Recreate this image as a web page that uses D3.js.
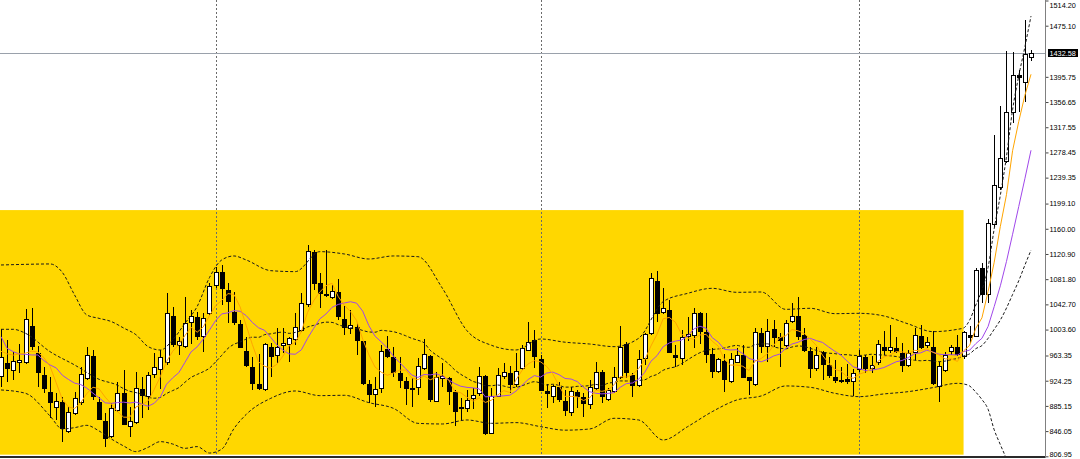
<!DOCTYPE html>
<html><head><meta charset="utf-8">
<script src="https://cdn.jsdelivr.net/npm/d3@7"></script>
<style>html,body{margin:0;padding:0;background:#fff;overflow:hidden}svg{display:block}</style>
</head><body>
<svg id="chart" width="1080" height="459"></svg>
<script>
// ---------- DATA ----------
const tickValues = [806.95, 846.05, 885.15, 924.25, 963.35, 1003.60, 1042.70, 1081.80, 1120.90, 1160.00,
  1199.10, 1239.35, 1278.45, 1317.55, 1356.65, 1395.75, 1475.10, 1514.20];
const lastPrice = 1432.58;
const separatorBars = [35, 88, 140];
const zoneBars = [-3, 157];
const zonePrices = [809.5, 1189.0];

const opens = [
930.5,952.3,939.9,951.2,951.2,1009.2,967.8,933.1,906.2,881.4,
890.7,845.2,872.6,890.2,926.9,962.6,891.8,862.3,836.4,877.8,
904.7,851.9,858.1,911.4,898.5,933.1,940.9,952.3,1024.7,978.1,
977.1,1013.3,1022.6,992.6,1027.3,1071.7,1092.4,1065.0,1030.4,1012.3,
970.4,946.1,918.7,909.9,977.1,963.1,978.1,979.7,987.4,1001.4,
1041.7,1123.5,1075.4,1058.8,1052.1,1062.4,1020.0,1005.0,1007.1,985.9,
918.7,902.1,910.9,973.0,961.6,936.8,923.8,912.4,912.4,942.4,
962.6,891.8,926.9,928.0,906.2,879.9,880.4,895.4,903.1,932.1,
841.6,899.5,929.5,935.7,917.6,941.9,970.9,987.4,957.9,908.3,
899.5,915.0,892.8,873.7,907.3,899.5,886.6,910.9,938.3,894.3,
907.3,928.0,981.2,933.1,916.1,957.4,996.2,1079.5,1028.8,1034.0,
964.2,957.9,992.6,994.2,1029.9,1000.4,965.7,938.3,955.4,922.8,
952.3,964.2,929.5,917.6,997.8,977.1,1004.5,991.6,978.1,1014.9,
1024.7,995.2,970.4,941.9,969.3,948.7,929.5,921.8,927.4,922.8,
940.9,960.5,941.9,951.2,976.1,970.9,975.5,967.8,947.6,966.8,
994.2,978.1,976.1,914.0,939.3,969.3,976.1,960.5,995.2,992.5,
1098.6,1057.2,1165.8,1222.8,1264.0,1339.1,1398.6,1385.7,1424.5];
const highs = [
1004.0,987.4,969.3,981.2,1035.5,1036.6,978.1,946.1,930.5,904.7,
899.5,884.0,907.3,946.1,976.1,971.9,899.5,873.7,889.2,922.8,
940.9,884.0,938.3,930.5,938.3,966.8,971.9,1059.8,1039.2,992.6,
1054.7,1034.0,1031.4,1028.8,1075.4,1101.2,1103.8,1075.4,1062.4,1018.5,
992.6,961.6,965.7,982.3,982.3,1005.5,1005.5,992.6,1028.8,1059.8,
1134.8,1127.1,1090.9,1127.1,1072.8,1081.6,1040.7,1034.0,1013.3,986.5,
925.4,930.5,979.7,994.2,977.1,961.6,930.5,928.0,959.0,989.0,
964.2,938.3,952.3,930.5,909.9,896.9,909.9,912.4,946.1,933.1,
912.4,943.9,951.2,947.1,967.8,979.7,1014.9,1003.0,964.2,919.2,
917.6,922.8,909.9,915.0,909.9,904.7,925.4,953.8,940.9,912.4,
946.1,1009.2,984.9,935.7,971.9,997.8,1090.9,1095.0,1067.6,1049.5,
979.7,1003.0,1022.6,1036.6,1031.4,1029.9,974.5,959.0,965.7,966.8,
974.5,979.7,930.5,1005.5,1005.5,1019.5,1018.5,997.8,1018.5,1044.3,
1054.7,1005.5,977.1,977.1,970.9,961.6,956.4,946.1,949.7,941.9,
971.9,964.2,962.6,987.4,1001.9,1010.7,992.6,982.3,971.9,1005.5,
1010.7,992.6,1001.9,953.8,969.3,979.7,995.2,1001.9,1009.2,1098.6,
1106.4,1174.7,1305.5,1350.9,1436.3,1434.7,1406.3,1483.9,1437.4];
const lows = [
915.0,922.8,925.4,935.7,950.2,971.9,915.0,904.7,865.9,863.3,
828.7,843.7,871.1,886.6,925.4,894.3,862.5,821.9,834.9,876.2,
855.0,837.5,857.5,865.9,878.8,928.0,910.9,948.7,977.1,964.2,
974.5,981.2,987.4,969.3,1026.2,1067.6,1041.7,1013.3,1010.7,974.5,
946.1,909.9,909.9,908.8,930.5,951.2,966.8,953.8,979.7,1000.4,
1039.2,1065.0,1036.6,1054.7,1051.1,1018.5,995.2,996.2,964.2,917.6,
890.2,884.0,905.7,959.0,930.5,912.4,886.6,884.0,902.1,940.9,
891.8,890.7,915.0,886.6,854.0,863.3,876.2,880.4,901.1,840.0,
841.1,898.5,926.4,904.7,915.0,940.9,970.4,944.5,908.3,881.4,
889.2,891.8,870.0,870.0,881.4,868.5,879.9,909.9,890.2,892.8,
904.7,926.4,928.0,899.5,915.0,948.7,995.2,1015.9,1027.8,966.8,
945.0,948.7,986.4,974.5,981.2,952.3,928.0,935.7,907.3,921.2,
951.2,928.0,902.1,916.6,966.8,953.8,977.1,945.0,977.1,1013.3,
987.4,969.3,928.0,939.9,925.4,928.0,920.2,920.2,919.2,901.1,
938.3,935.7,936.8,948.7,964.2,966.8,966.8,938.3,946.1,956.4,
973.0,974.5,917.6,890.7,938.3,964.2,962.6,957.9,982.3,991.6,
1044.3,1044.8,1163.2,1220.1,1261.6,1323.6,1341.6,1357.1,1420.8];
const closes = [
961.6,941.9,954.9,956.4,1020.0,977.1,935.7,910.9,889.2,892.8,
848.8,876.2,898.0,934.2,964.2,898.5,863.3,833.3,881.4,904.7,
855.6,862.3,913.5,900.6,933.1,945.0,961.6,1029.9,979.7,985.9,
1014.3,1025.2,992.6,1021.1,1071.7,1092.4,1066.1,1045.9,1014.3,975.5,
947.1,918.7,911.4,980.7,960.5,977.1,983.3,990.0,1008.1,1044.3,
1125.5,1073.8,1058.3,1055.7,1064.0,1022.6,1005.5,1010.2,985.9,918.7,
902.1,910.9,970.4,961.6,935.7,924.3,911.4,909.9,947.6,965.2,
894.3,929.5,931.6,907.3,876.2,883.0,894.3,902.1,932.1,841.1,
901.1,933.1,937.3,917.6,939.3,974.5,983.8,961.6,908.8,903.7,
916.1,894.3,877.3,908.3,899.5,888.1,914.0,938.3,898.5,909.9,
929.5,976.1,935.7,916.6,957.4,996.2,1084.2,1027.3,1036.6,967.8,
959.0,991.6,996.2,1028.8,1000.4,964.2,938.3,957.4,925.4,957.4,
964.2,929.0,923.8,999.3,977.1,1001.4,991.1,985.9,1014.3,1024.7,
992.6,970.9,941.9,964.2,948.7,931.6,924.3,925.4,922.8,935.7,
963.1,941.9,948.7,980.7,970.9,977.1,969.3,947.1,967.8,995.2,
974.5,984.9,919.2,947.1,964.2,976.1,964.2,1000.4,991.1,1096.0,
1057.2,1168.5,1227.9,1269.3,1341.6,1398.6,1394.4,1431.2,1432.58];

// fast moving average (orange)
const maFast = [
970.0,966.0,964.0,966.0,967.0,970.1,968.8,960.0,946.6,921.1,
895.5,883.6,881.0,890.0,904.3,914.2,911.6,898.7,888.1,876.2,
867.7,867.5,883.5,887.3,893.0,910.9,930.8,954.0,969.9,980.4,
994.3,1007.0,999.5,1007.8,1025.0,1040.6,1048.8,1059.4,1058.1,1038.8,
1009.8,980.3,953.4,946.7,943.7,949.7,962.6,978.3,983.8,1000.6,
1030.2,1048.3,1062.0,1071.5,1075.5,1054.9,1041.2,1031.6,1017.6,988.6,
964.5,945.6,937.6,932.7,936.1,940.6,940.7,928.6,925.8,931.7,
925.7,929.3,933.6,925.6,907.8,905.5,898.5,892.6,897.5,890.5,
894.1,901.9,908.9,906.0,925.7,940.4,950.5,955.4,953.6,946.5,
934.8,916.9,900.0,899.9,899.1,893.5,897.4,909.6,907.7,909.8,
918.0,930.5,929.9,933.6,943.1,956.4,978.0,996.3,1020.3,1022.4,
1015.0,996.5,990.2,988.7,995.2,996.2,985.6,977.8,957.1,948.5,
948.5,946.7,940.0,954.7,958.7,966.1,978.5,991.0,994.0,1003.5,
1001.7,997.7,988.9,978.9,963.7,951.5,942.1,938.8,930.6,928.0,
934.3,937.8,942.4,954.0,961.1,963.9,969.3,969.0,966.4,971.3,
970.8,973.9,968.3,964.2,958.0,958.3,954.2,970.4,979.2,1005.6,
1021.8,1062.6,1108.1,1163.8,1212.9,1281.2,1326.4,1367.0,1399.7];

// slow moving average (purple)
const maSlow = [
992.6,974.5,969.3,965.7,965.2,964.2,964.2,955.4,948.7,944.1,
932.8,926.2,920.5,918.3,912.7,904.9,897.6,889.9,889.1,890.3,
891.0,889.6,891.1,887.7,884.6,889.3,899.2,918.8,928.6,936.7,
952.6,968.9,976.8,988.9,1002.7,1017.5,1027.9,1029.5,1033.0,1031.9,
1025.2,1014.6,1006.4,1002.4,991.3,979.8,971.5,965.9,965.3,972.2,
990.0,1005.5,1020.2,1027.7,1038.1,1042.6,1044.8,1046.8,1044.6,1032.1,
1009.7,993.4,984.6,975.2,962.4,952.6,943.2,933.1,929.3,933.9,
933.2,935.0,931.1,925.7,919.8,915.6,913.9,913.1,911.6,899.2,
899.8,900.2,900.8,901.8,908.1,917.3,926.2,932.2,929.8,936.1,
937.6,933.7,927.7,926.8,922.8,914.2,907.2,904.8,903.8,904.5,
905.8,914.0,919.8,920.7,926.5,937.2,954.3,963.1,977.0,982.8,
985.7,987.3,993.3,1004.5,1008.8,1005.6,991.1,984.0,972.9,971.9,
972.4,966.2,958.9,955.9,953.6,957.3,962.6,965.5,974.4,981.1,
983.9,988.1,990.0,986.5,983.6,976.6,969.9,963.9,954.8,945.9,
942.9,940.0,940.6,942.3,944.6,949.1,953.6,955.7,960.2,966.2,
967.4,971.6,968.7,965.3,964.7,964.6,964.1,969.4,971.7,981.8,
990.1,1008.4,1039.3,1071.5,1109.3,1151.5,1194.5,1237.6,1281.8];

// Bollinger middle line (null = not read)
const bandMid = [
1004.0,null,1004.0,null,997.8,null,null,null,969.3,null,
null,null,948.7,null,null,null,926.4,null,null,917.2,
911.9,907.9,905.8,903.0,898.7,897.1,898.4,904.4,908.9,913.5,
921.8,929.3,934.0,938.3,943.7,953.4,963.6,974.2,980.8,984.3,
988.9,991.8,991.6,995.7,997.0,998.7,999.7,997.7,999.2,1002.1,
1007.6,1010.1,1013.3,1015.1,1014.7,1011.2,1008.2,1006.4,1005.0,1002.2,
999.9,999.5,1002.4,1001.5,1000.3,997.6,994.0,990.0,987.0,983.0,
971.5,964.2,957.9,950.5,941.1,934.1,928.6,923.1,920.5,916.6,
916.5,917.6,916.0,913.8,914.0,916.5,920.1,922.7,920.7,917.7,
918.7,917.0,914.3,914.3,915.5,915.8,916.7,918.5,916.8,920.3,
921.7,923.9,923.8,923.8,924.7,925.7,930.8,934.0,940.4,943.7,
945.8,950.7,956.6,962.6,967.7,971.4,972.7,973.6,975.0,977.4,
979.1,976.8,976.1,980.2,981.2,981.5,976.9,974.8,973.7,976.5,
978.2,977.2,974.5,971.2,968.6,967.0,966.3,964.7,964.6,963.5,
963.4,964.1,965.3,964.4,964.1,962.9,961.8,959.8,957.5,956.1,
955.2,955.8,954.7,953.8,954.7,956.9,958.9,962.6,966.0,974.0,
978.8,990.0,1004.0,1018.4,1037.0,1058.1,1079.3,1103.5,1126.8];

// Bollinger upper / lower, read at these bars
const bandBars = [0,4,8,10,12,14,16,18,20,22,
  24,26,28,30,32,34,36,38,40,44,
  48,52,56,60,64,68,72,76,80,84,
  88,92,96,100,104,108,112,116,120,124,
  128,132,136,140,144,148,152,156,157,158,
  159,160,161,162,163,164,165,166,167,168];
const bandUpper = [1103.8,1104.8,1105.4,1092.4,1057.3,1026.2,1021.0,1016.0,1006.0,995.7,
  977.1,971.9,987.4,1013.3,1039.5,1084.2,1111.6,1117.8,1111.6,1095.0,
  1093.5,1124.5,1120.9,1113.1,1117.8,1116.7,1067.6,1001.9,979.2,971.9,
  989.0,984.0,981.2,977.1,990.0,1046.9,1059.8,1067.6,1061.4,1061.9,
  1035.0,1036.6,1028.3,1028.8,1024.7,1012.3,1000.4,1004.0,1006.0,1018.4,
  1041.7,1065.0,1100.0,1160.0,1212.0,1272.0,1345.0,1397.0,1442.0,1490.0];
const bandLower = [909.9,904.7,869.5,849.3,851.4,855.0,846.2,833.8,823.0,814.2,
  820.9,829.7,826.0,819.3,822.0,812.0,818.0,850.0,872.0,896.9,
  908.3,901.1,901.6,890.2,881.4,858.1,857.1,863.3,858.1,859.2,
  853.0,847.5,849.3,865.9,863.3,832.3,853.0,876.2,894.3,900.6,
  916.1,914.0,904.7,899.5,903.7,907.3,913.5,920.2,919.2,916.0,
  906.5,895.0,880.0,848.0,825.0,802.0,770.0,762.0,765.0,763.0];

// ---------- DRAW ----------
const svg = d3.select("#chart");
const plotRight = 1045, plotBottom = 456;
const x = d3.scaleLinear().domain([0, 168]).range([1, 1031]);
const y = d3.scaleLinear().domain([806.95, 1514.20]).range([456.3, 0.5]);

svg.append("rect").attr("width", 1080).attr("height", 459).attr("fill", "#fff");
svg.append("defs").append("clipPath").attr("id", "plotClip")
  .append("rect").attr("x", 0).attr("y", 0).attr("width", plotRight).attr("height", plotBottom);

const plot = svg.append("g").attr("clip-path", "url(#plotClip)");

// zone rectangle
plot.append("rect")
  .attr("x", x(zoneBars[0])).attr("y", y(zonePrices[1]))
  .attr("width", x(zoneBars[1]) - x(zoneBars[0]))
  .attr("height", y(zonePrices[0]) - y(zonePrices[1]))
  .attr("fill", "#FFD700");

// period separators
plot.selectAll("line.sep").data(separatorBars).join("line").attr("class", "sep")
  .attr("x1", d => Math.round(x(d)) + 0.5).attr("x2", d => Math.round(x(d)) + 0.5)
  .attr("y1", 0).attr("y2", plotBottom)
  .attr("stroke", "#6b6b6b").attr("stroke-width", 1).attr("stroke-dasharray", "2,2");

// last price line
const ly = Math.round(y(lastPrice)) + 0.5;
plot.append("line").attr("x1", 0).attr("x2", plotRight).attr("y1", ly).attr("y2", ly)
  .attr("stroke", "#9aa1ab").attr("stroke-width", 1);

// candles
const bars = d3.range(closes.length);
const cg = plot.append("g").attr("shape-rendering", "crispEdges");
bars.forEach(i => {
  const cx = Math.round(x(i));
  const yh = Math.round(y(highs[i])), yl = Math.round(y(lows[i]));
  cg.append("rect").attr("x", cx).attr("y", yh).attr("width", 1).attr("height", Math.max(1, yl - yh)).attr("fill", "#000");
  const top = Math.round(y(Math.max(opens[i], closes[i])));
  const bot = Math.round(y(Math.min(opens[i], closes[i])));
  const bull = closes[i] >= opens[i];
  if (bull) {
    const h = Math.max(2, bot - top);
    cg.append("rect").attr("x", cx - 2).attr("y", top).attr("width", 5).attr("height", h).attr("fill", "#000");
    if (h > 2) cg.append("rect").attr("x", cx - 1).attr("y", top + 1).attr("width", 3).attr("height", h - 2).attr("fill", "#fff");
  } else {
    cg.append("rect").attr("x", cx - 2).attr("y", top).attr("width", 5).attr("height", Math.max(1, bot - top)).attr("fill", "#000");
  }
});

// indicator lines
const lineLin = d3.line().x(d => x(d[0])).y(d => y(d[1]));
const lineSmooth = d3.line().x(d => x(d[0])).y(d => y(d[1])).curve(d3.curveMonotoneX);
const pts = arr => arr.map((v, i) => [i, v]).filter(d => d[1] != null);

plot.append("path").datum(bandBars.map((b, k) => [b, bandUpper[k]])).attr("d", lineSmooth)
  .attr("fill", "none").attr("stroke", "#1a1a1a").attr("stroke-width", 1).attr("stroke-dasharray", "3,2");
plot.append("path").datum(bandBars.map((b, k) => [b, bandLower[k]])).attr("d", lineSmooth)
  .attr("fill", "none").attr("stroke", "#1a1a1a").attr("stroke-width", 1).attr("stroke-dasharray", "3,2");
plot.append("path").datum(pts(bandMid)).attr("d", lineSmooth)
  .attr("fill", "none").attr("stroke", "#1a1a1a").attr("stroke-width", 1).attr("stroke-dasharray", "3,2");
plot.append("path").datum(pts(maSlow)).attr("d", lineLin)
  .attr("fill", "none").attr("stroke", "#a047ea").attr("stroke-width", 1);
plot.append("path").datum(pts(maFast)).attr("d", lineLin)
  .attr("fill", "none").attr("stroke", "#ffa500").attr("stroke-width", 1);

// bottom border
svg.append("rect").attr("x", 0).attr("y", 456).attr("width", plotRight + 1).attr("height", 2).attr("fill", "#2a2a2a");

// right price axis
const axis = d3.axisRight(y).tickValues(tickValues).tickSize(3).tickPadding(1).tickSizeOuter(0)
  .tickFormat(d3.format(".2f"));
const ag = svg.append("g").attr("transform", `translate(${plotRight + 0.5},0)`).call(axis);
ag.select(".domain").remove();
ag.selectAll(".tick line").attr("stroke", "#444");
ag.selectAll(".tick text").attr("fill", "#000")
  .attr("dy", d => d === tickValues[tickValues.length - 1] ? "0.95em" : (d === tickValues[0] ? "0.05em" : "0.32em"))
  .style("font-family", "'Liberation Sans', Arial, sans-serif").style("font-size", "7.3px");
svg.append("line").attr("x1", plotRight + 0.5).attr("x2", plotRight + 0.5).attr("y1", 0).attr("y2", 458)
  .attr("stroke", "#808080").attr("stroke-width", 1);

// last price label
svg.append("rect").attr("x", 1048).attr("y", ly - 4.5).attr("width", 30).attr("height", 8).attr("fill", "#000");
svg.append("text").attr("x", 1049.5).attr("y", ly).attr("dy", "0.33em").text(d3.format(".2f")(lastPrice))
  .attr("fill", "#fff").style("font-family", "'Liberation Sans', Arial, sans-serif").style("font-size", "7.3px");
</script>
</body></html>
